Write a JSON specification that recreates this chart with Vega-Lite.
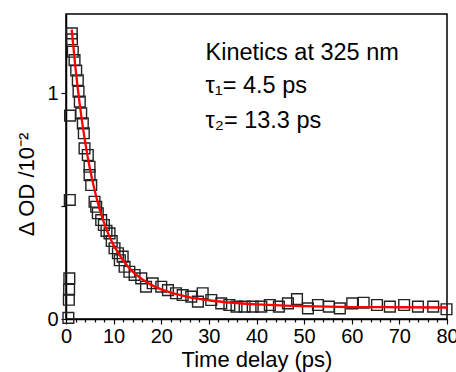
{
  "$schema": "https://vega.github.io/schema/vega-lite/v6.json",
  "autosize": "none",
  "width": 381,
  "height": 305,
  "padding": {"left": 66, "top": 14, "right": 9, "bottom": 53},
  "background": "white",
  "config": {
    "font": "Liberation Sans",
    "view": {"stroke": "black", "strokeWidth": 1.5},
    "axis": {"domainColor": "black", "tickColor": "black", "labelColor": "black", "titleColor": "black", "grid": false, "labelFont": "Liberation Sans", "titleFont": "Liberation Sans", "titleFontWeight": "normal"}
  },
  "datasets": {
    "pts": [
      {"t": 0.5, "od": 0.005}, {"t": 0.6, "od": 0.085}, {"t": 0.65, "od": 0.13}, {"t": 0.7, "od": 0.18}, {"t": 0.8, "od": 0.527}, {"t": 0.85, "od": 0.9},
      {"t": 1.22, "od": 1.264}, {"t": 1.25, "od": 1.238}, {"t": 1.43, "od": 1.183}, {"t": 1.79, "od": 1.146}, {"t": 2.14, "od": 1.1}, {"t": 2.48, "od": 1.057},
      {"t": 2.63, "od": 1.006}, {"t": 2.9, "od": 0.962}, {"t": 3.19, "od": 0.91}, {"t": 3.53, "od": 0.866}, {"t": 3.74, "od": 0.822}, {"t": 3.89, "od": 0.755},
      {"t": 4.58, "od": 0.726}, {"t": 4.94, "od": 0.674}, {"t": 4.95, "od": 0.637}, {"t": 5.29, "od": 0.593}, {"t": 5.99, "od": 0.519}, {"t": 6.34, "od": 0.497},
      {"t": 6.68, "od": 0.468}, {"t": 7.39, "od": 0.438}, {"t": 7.95, "od": 0.416}, {"t": 8.5, "od": 0.39}, {"t": 9.14, "od": 0.379}, {"t": 9.6, "od": 0.345},
      {"t": 10.19, "od": 0.313}, {"t": 10.9, "od": 0.291}, {"t": 11.3, "od": 0.26}, {"t": 11.9, "od": 0.276}, {"t": 12.3, "od": 0.231}, {"t": 13.3, "od": 0.209},
      {"t": 14.4, "od": 0.195}, {"t": 15.8, "od": 0.18}, {"t": 16.8, "od": 0.143}, {"t": 18.2, "od": 0.158}, {"t": 20.0, "od": 0.143}, {"t": 21.4, "od": 0.128},
      {"t": 23.1, "od": 0.114}, {"t": 24.5, "od": 0.106}, {"t": 26.3, "od": 0.099}, {"t": 27.7, "od": 0.077}, {"t": 28.7, "od": 0.114}, {"t": 30.5, "od": 0.084},
      {"t": 32.6, "od": 0.069}, {"t": 34.3, "od": 0.062}, {"t": 35.8, "od": 0.055}, {"t": 37.5, "od": 0.055}, {"t": 39.2, "od": 0.055}, {"t": 41.0, "od": 0.055},
      {"t": 42.8, "od": 0.062}, {"t": 44.7, "od": 0.055}, {"t": 46.6, "od": 0.069}, {"t": 48.5, "od": 0.088}, {"t": 50.8, "od": 0.047}, {"t": 52.9, "od": 0.062},
      {"t": 55.2, "od": 0.055}, {"t": 57.5, "od": 0.047}, {"t": 60.1, "od": 0.069}, {"t": 62.5, "od": 0.072}, {"t": 65.3, "od": 0.062}, {"t": 68.0, "od": 0.055},
      {"t": 71.0, "od": 0.062}, {"t": 73.9, "od": 0.055}, {"t": 77.1, "od": 0.055}, {"t": 79.9, "od": 0.043}
    ],
    "fit": [
      {"t": 1.2, "od": 1.281}, {"t": 2, "od": 1.109}, {"t": 3, "od": 0.931}, {"t": 4, "od": 0.786}, {"t": 5, "od": 0.667},
      {"t": 6, "od": 0.571}, {"t": 7, "od": 0.491}, {"t": 8, "od": 0.425}, {"t": 9, "od": 0.371}, {"t": 10, "od": 0.327},
      {"t": 12, "od": 0.259}, {"t": 14, "od": 0.21}, {"t": 16, "od": 0.176}, {"t": 18, "od": 0.15}, {"t": 20, "od": 0.131},
      {"t": 23, "od": 0.111}, {"t": 26, "od": 0.096}, {"t": 30, "od": 0.083}, {"t": 35, "od": 0.072}, {"t": 40, "od": 0.065},
      {"t": 45, "od": 0.06}, {"t": 50, "od": 0.057}, {"t": 60, "od": 0.053}, {"t": 70, "od": 0.052}, {"t": 80, "od": 0.051}
    ],
    "notes": [
      {"t": 29.3, "od": 1.177, "txt": "Kinetics at 325 nm"},
      {"t": 29.3, "od": 1.031, "txt": "τ₁= 4.5 ps"},
      {"t": 29.3, "od": 0.876, "txt": "τ₂= 13.3 ps"}
    ]
  },
  "layer": [
    {
      "data": {"name": "pts"},
      "mark": {"type": "point", "shape": "square", "filled": false, "stroke": "#222222", "strokeWidth": 1.4, "size": 115, "opacity": 1},
      "encoding": {
        "x": {"field": "t", "type": "quantitative", "scale": {"domain": [0, 80], "nice": false},
          "axis": {"orient": "bottom", "values": [0, 10, 20, 30, 40, 50, 60, 70, 80], "format": "d",
            "tickSize": 5, "labelFontSize": 20, "labelPadding": 2, "labelOverlap": false, "labelFlush": false,
            "title": "Time delay (ps)", "titleFontSize": 22, "titlePadding": 3, "domainWidth": 1.5, "tickWidth": 1.2}},
        "y": {"field": "od", "type": "quantitative", "scale": {"domain": [0, 1.35], "nice": false},
          "axis": {"values": [0, 0.5, 1], "labelExpr": "datum.value == 0.5 ? '' : format(datum.value, 'd')", "labelFontSize": 20, "tickSize": 5, "labelPadding": 3, "title": "Δ OD /10⁻²", "titleFontSize": 22, "titlePadding": 8, "titleY": 170, "domainWidth": 1.5, "tickWidth": 1.2}}
      }
    },
    {
      "data": {"values": [{"t": 0}]},
      "mark": {"type": "point", "opacity": 0},
      "encoding": {
        "x": {"field": "t", "type": "quantitative",
          "axis": {"orient": "bottom", "values": [2, 4, 6, 8, 12, 14, 16, 18, 22, 24, 26, 28, 32, 34, 36, 38, 42, 44, 46, 48, 52, 54, 56, 58, 62, 64, 66, 68, 72, 74, 76, 78], "labels": false, "tickSize": 3, "domain": false, "title": null, "tickWidth": 1.2}}
      }
    },
    {
      "data": {"name": "fit"},
      "mark": {"type": "line", "color": "#ff0000", "strokeWidth": 2.3, "interpolate": "monotone"},
      "encoding": {
        "x": {"field": "t", "type": "quantitative", "axis": null},
        "y": {"field": "od", "type": "quantitative"}
      }
    },
    {
      "data": {"name": "notes"},
      "mark": {"type": "text", "align": "left", "baseline": "middle", "fontSize": 23.5, "font": "Liberation Sans", "color": "black"},
      "encoding": {
        "x": {"field": "t", "type": "quantitative", "axis": null},
        "y": {"field": "od", "type": "quantitative"},
        "text": {"field": "txt"}
      }
    }
  ],
  "resolve": {"axis": {"x": "independent"}}
}
